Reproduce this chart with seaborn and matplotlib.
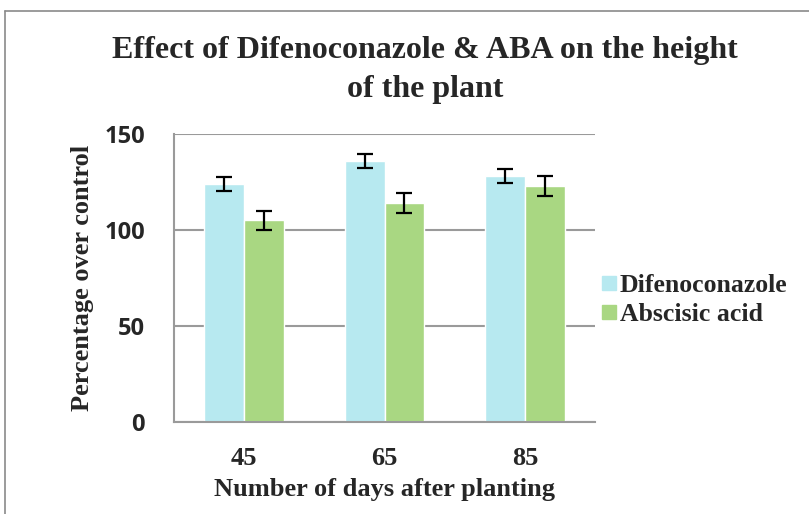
import numpy as np
import pandas as pd
import matplotlib
matplotlib.use('Agg')
import matplotlib.pyplot as plt
import seaborn as sns
from matplotlib.lines import Line2D

# data
days = ['45', '65', '85']
difeno = [124, 136, 128]
aba = [105, 114, 123]
difeno_err = [3.7, 3.6, 3.6]
aba_err = [5.1, 5.4, 5.3]
series = ['Difenoconazole', 'Abscisic acid']
colors = ['#B7E9F0', '#A9D782']

df = pd.DataFrame({
    'Dias': days * 2,
    'Valor': difeno + aba,
    'Serie': [series[0]] * 3 + [series[1]] * 3,
})

sns.set_style('white')
serif = ['Liberation Serif', 'DejaVu Serif']
sans = ['Open Sans', 'DejaVu Sans']

fig = plt.figure(figsize=(8.09, 5.14), dpi=100)
ax = fig.add_axes([174/809, 1 - 422/514, 421/809, 288/514])

sns.barplot(data=df, x='Dias', y='Valor', hue='Serie', hue_order=series,
            palette=colors, width=0.57, saturation=1, errorbar=None, ax=ax,
            legend=False)

# error bars on top of the seaborn bars
errs = difeno_err + aba_err
vals = difeno + aba
for p, v, e in zip(ax.patches[:6], vals, errs):
    cx = p.get_x() + p.get_width() / 2
    ax.errorbar(cx, v, yerr=e, color='black', capsize=5.5, capthick=1.6,
                elinewidth=1.6, zorder=5)

ax.set_ylim(0, 150)
ax.set_xlim(-0.5, 2.5)
ax.set_yticks([0, 50, 100, 150])
ax.yaxis.grid(True, color='#9a9a9a', linewidth=1.5)
ax.set_axisbelow(True)
for s in ['top', 'right']:
    ax.spines[s].set_visible(False)
for s in ['left', 'bottom']:
    ax.spines[s].set_color('#9a9a9a')
    ax.spines[s].set_linewidth(1.5)
ax.tick_params(axis='y', length=9, width=1.5, color='#9a9a9a', direction='out', pad=12)
ax.tick_params(axis='x', length=0, pad=18)
for t in ax.get_yticklabels():
    t.set_fontfamily(sans)
    t.set_fontweight('bold')
    t.set_fontsize(17)
for t in ax.get_xticklabels():
    t.set_fontfamily(serif)
    t.set_fontweight('bold')
    t.set_fontsize(19)

ax.set_xlabel('Number of days after planting', fontfamily=serif, fontweight='bold',
              fontsize=19, labelpad=6)
ax.set_ylabel('Percentage over control', fontfamily=serif, fontweight='bold',
              fontsize=19, labelpad=7)

fig.text(425/809, 1 - 70/514, 'Effect of Difenoconazole & ABA on the height\nof the plant',
         ha='center', va='center', fontfamily=serif, fontweight='bold',
         fontsize=23, linespacing=1.42)

handles = [Line2D([], [], marker='s', linestyle='none', markersize=10,
                  markerfacecolor=c, markeredgecolor=c) for c in colors]
fig.legend(handles, series, loc='center left', bbox_to_anchor=(576/809, 1 - 300/514),
           frameon=False, handletextpad=-0.2, handlelength=1.2, labelspacing=0.2,
           borderpad=0.2, prop={'family': serif, 'weight': 'bold', 'size': 18.5})

# outer chart border
fig.add_artist(Line2D([5/809, 1], [1 - 11/514, 1 - 11/514], color='#8a8a8a', lw=1.2,
                      transform=fig.transFigure))
fig.add_artist(Line2D([5/809, 5/809], [0, 1 - 11/514], color='#8a8a8a', lw=1.2,
                      transform=fig.transFigure))

fig.savefig('out.png', dpi=100)
